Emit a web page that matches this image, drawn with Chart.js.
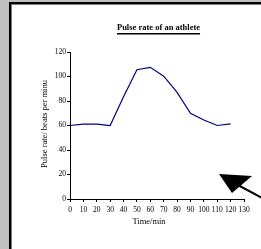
<!DOCTYPE html>
<html>
<head>
<meta charset="utf-8">
<script src="https://cdn.jsdelivr.net/npm/chart.js@4"></script>
<style>
  html, body { margin: 0; padding: 0; background: #c0c0c0; }
  #frame {
    position: absolute; left: 9px; top: 2px; width: 260px; height: 260px;
    background: #fff; border-left: 2px solid #000; border-top: 2px solid #000;
    box-shadow: inset 1px 1px 0 #808080;
  }
  #wrap { position: absolute; left: 0; top: 0; width: 261px; height: 249px; }
</style>
</head>
<body>
<div id="frame"></div>
<div id="wrap"><canvas id="myChart" width="261" height="249"></canvas></div>
<script>
// data
const times = [0, 10, 20, 30, 40, 50, 60, 70, 80, 90, 100, 110, 120];
const pulse = [60, 61.2, 61.2, 60, 83.5, 105.5, 107.5, 100.3, 87, 70, 64.5, 60, 61.3];
const xTicks = [0, 10, 20, 30, 40, 50, 60, 70, 80, 90, 100, 110, 120, 130];
const yTicks = [0, 20, 40, 60, 80, 100, 120];

const serif = "'Liberation Serif', 'DejaVu Serif', serif";

// title, axis titles and the arrow
const extras = {
  id: 'extras',
  afterDraw(chart) {
    const ctx = chart.ctx;
    ctx.save();
    ctx.fillStyle = '#000';
    ctx.textAlign = 'center';
    ctx.textBaseline = 'middle';

    // title + underline
    ctx.font = 'bold 8.5px ' + serif;
    const title = 'Pulse rate of an athlete';
    ctx.fillText(title, 158.5, 28);
    const w = ctx.measureText(title).width;
    ctx.fillRect(158.5 - w / 2, 33, w, 1.5);

    // x title
    ctx.font = '8.5px ' + serif;
    ctx.fillText('Time/min', 149, 222);

    // y title
    ctx.save();
    ctx.translate(45, 124);
    ctx.rotate(-Math.PI / 2);
    ctx.fillText('Pulse rate/ beats per minu', 0, 0);
    ctx.restore();

    // arrow
    ctx.beginPath();
    ctx.moveTo(219, 174);
    ctx.lineTo(252, 176);
    ctx.lineTo(232, 193);
    ctx.closePath();
    ctx.fill();
    ctx.beginPath();
    ctx.lineWidth = 2;
    ctx.strokeStyle = '#000';
    ctx.moveTo(236, 184);
    ctx.lineTo(262, 198);
    ctx.stroke();
    ctx.restore();
  }
};

new Chart(document.getElementById('myChart'), {
  type: 'line',
  data: {
    datasets: [{
      data: times.map((t, i) => ({ x: t, y: pulse[i] })),
      borderColor: '#000080',
      borderWidth: 1.2,
      pointRadius: 0,
      tension: 0,
      fill: false
    }]
  },
  options: {
    responsive: false,
    animation: false,
    layout: { padding: { left: 0, top: 52, right: 17, bottom: 0 } },
    plugins: { legend: { display: false }, tooltip: { enabled: false } },
    scales: {
      x: {
        type: 'linear', min: 0, max: 130,
        afterBuildTicks: s => { s.ticks = xTicks.map(v => ({ value: v })); },
        afterFit: s => { s.height = 50; },
        grid: { drawOnChartArea: false, drawTicks: true, tickLength: 3, color: '#000' },
        border: { display: true, color: '#000', width: 1 },
        ticks: { color: '#000', font: { family: serif, size: 7.5 }, padding: 4, maxRotation: 0, autoSkip: false }
      },
      y: {
        type: 'linear', min: 0, max: 120,
        afterBuildTicks: s => { s.ticks = yTicks.map(v => ({ value: v })); },
        afterFit: s => { s.width = 70; },
        grid: { drawOnChartArea: false, drawTicks: true, tickLength: 3, color: '#000' },
        border: { display: true, color: '#000', width: 1 },
        ticks: { color: '#000', font: { family: serif, size: 7.5 }, padding: 1 }
      }
    }
  },
  plugins: [extras]
});
</script>
</body>
</html>
